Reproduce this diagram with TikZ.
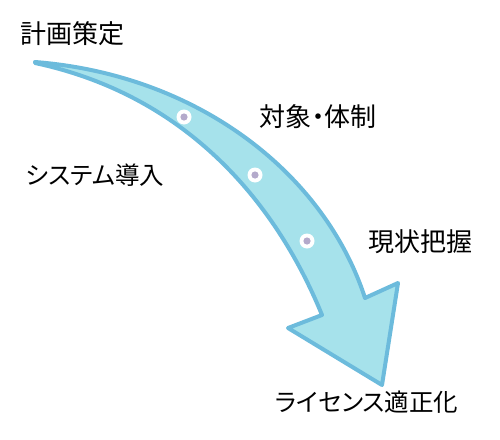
\documentclass[tikz,border=0pt]{standalone}
\usepackage{fontspec}
\setmainfont{Noto Sans CJK JP}[RawFeature=+palt]
\usetikzlibrary{positioning}
\definecolor{bandfill}{HTML}{A6E2EB}
\definecolor{bandline}{HTML}{6CBBDC}
\definecolor{dotcol}{HTML}{B4AACB}
\begin{document}
\begin{tikzpicture}[
		x=1pt, y=-1pt,
		L/.style = {inner sep=0pt, text height=0.88em, text depth=0.12em,% labels
			font=\fontsize{26}{30}\selectfont},
		K/.style = {L, font=\fontsize{24.5}{30}\selectfont},% katakana labels
		D/.style = {circle, fill=white, inner sep=0pt, minimum size=15pt},
		]
		\useasboundingbox (0,0) rectangle (500,439);
		% the bent arrow
		\draw[bandline, fill=bandfill, line width=4pt, line join=round]
			(35,62) .. controls (200,75) and (325,175) .. (365,298)
			-- (398,283) -- (382,385) -- (288,328) -- (322,315)
			.. controls (275,200) and (185,95) .. (35,63) -- cycle;
		\foreach \x/\y [count=\i] in {184/117,255/175,307/241}
			\node[D] (d\i) at (\x,\y) {};
		\foreach \i in {1,2,3}
			\fill[dotcol] (d\i) circle (3.6pt);
		% labels
		\node[L] (plan)    at (72,40)   {計画策定};
		\node[L] (scope)   at (318,123) {対象・体制};
		\node[K] (intro)   at (95,181)  {システム導入};
		\node[L] (survey)  at (420,248) {現状把握};
		\node[K] (license) at (367,408) {ライセンス適正化};
	\end{tikzpicture}
\end{document}
